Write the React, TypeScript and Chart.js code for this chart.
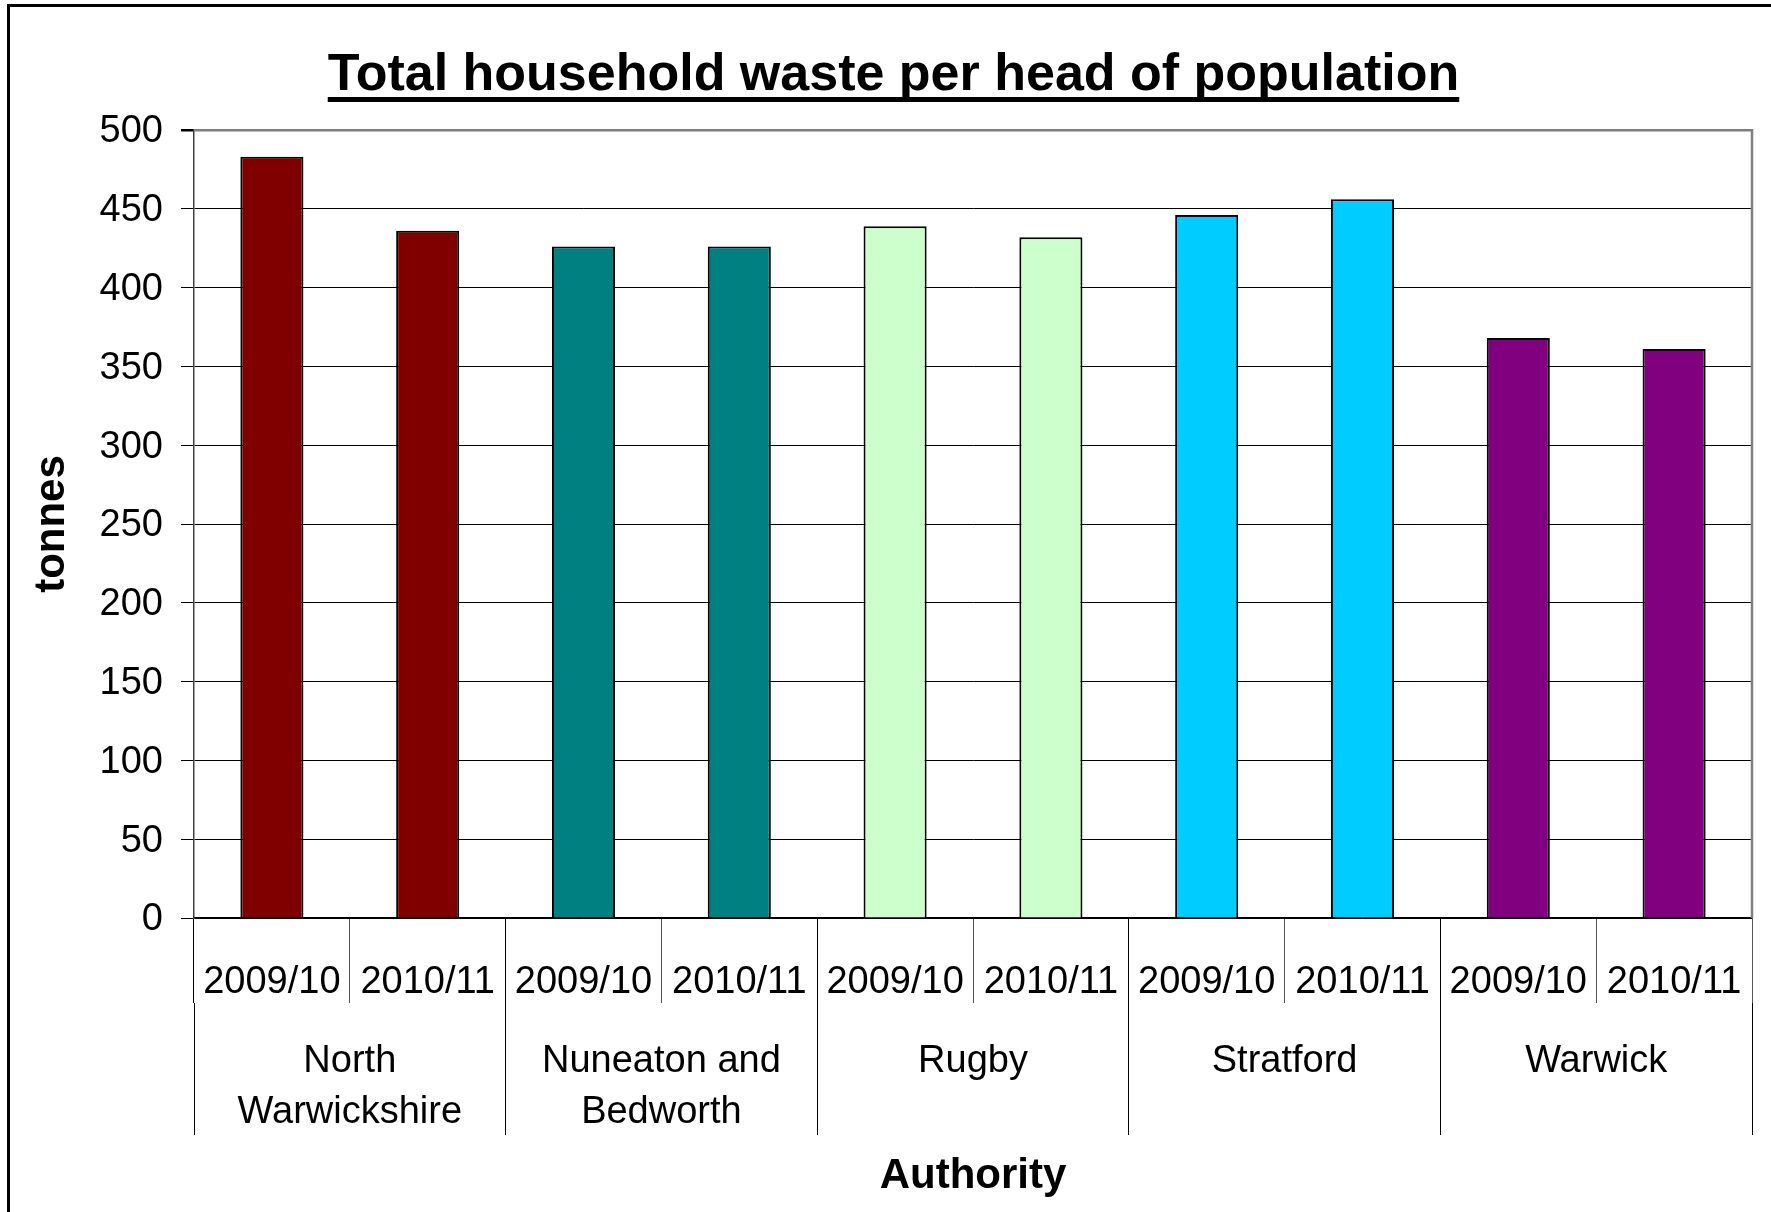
import React, { useEffect, useRef } from 'react';
import { Chart, registerables } from 'chart.js';

Chart.register(...registerables);

const FONT = "'Liberation Sans', Arial, Helvetica, sans-serif";

const chartTitle = 'Total household waste per head of population';
const xAxisTitle = 'Authority';
const yAxisTitle = 'tonnes';

const yearLabels = [
  '2009/10', '2010/11',
  '2009/10', '2010/11',
  '2009/10', '2010/11',
  '2009/10', '2010/11',
  '2009/10', '2010/11',
];

const authorityLabels = [
  ['North', 'Warwickshire'],
  ['Nuneaton and', 'Bedworth'],
  'Rugby',
  'Stratford',
  'Warwick',
];

const wasteValues = [483, 436, 426, 426, 439, 432, 446, 456, 368, 361];

const barColors = [
  '#800000', '#800000',
  '#008080', '#008080',
  '#CCFFCC', '#CCFFCC',
  '#00CCFF', '#00CCFF',
  '#800080', '#800080',
];

const yMin = 0;
const yMax = 500;
const yStep = 50;

const titlePlugin = {
  id: 'underlinedTitleAndBorder',
  afterDraw(chart: any) {
    const ctx = chart.ctx;
    const { right, top, bottom } = chart.chartArea;
    ctx.save();
    // plot area right border
    ctx.strokeStyle = '#808080';
    ctx.lineWidth = 2.5;
    ctx.beginPath();
    ctx.moveTo(right, top - 1);
    ctx.lineTo(right, bottom);
    ctx.stroke();
    // title
    ctx.font = `bold 52px ${FONT}`;
    ctx.fillStyle = '#000';
    ctx.textAlign = 'center';
    ctx.textBaseline = 'alphabetic';
    const cx = chart.width / 2 + 8;
    ctx.fillText(chartTitle, cx, 90);
    const w = ctx.measureText(chartTitle).width;
    ctx.fillRect(cx - w / 2, 97, w, 5);
    ctx.restore();
  },
};

export default function App() {
  const canvasRef = useRef<HTMLCanvasElement | null>(null);

  useEffect(() => {
    if (!canvasRef.current) return;
    const chart = new Chart(canvasRef.current, {
      type: 'bar',
      data: {
        labels: yearLabels,
        datasets: [
          {
            data: wasteValues,
            backgroundColor: barColors,
            borderColor: '#000',
            borderWidth: 2,
            barPercentage: 0.405,
            categoryPercentage: 1,
          },
        ],
      },
      options: {
        animation: false,
        responsive: false,
        events: [],
        layout: { padding: { left: 4, right: 19, top: 130, bottom: 0 } },
        plugins: {
          legend: { display: false },
          tooltip: { enabled: false },
          title: { display: false },
        },
        scales: {
          x: {
            type: 'category',
            position: 'bottom',
            weight: 0,
            offset: true,
            ticks: {
              color: '#000',
              font: { family: FONT, size: 38 },
              padding: -43.5,
              autoSkip: false,
              maxRotation: 0,
              minRotation: 0,
            },
            grid: {
              offset: true,
              drawOnChartArea: false,
              drawTicks: true,
              tickLength: 85,
              color: (c: any) => (c.index % 2 === 0 ? '#000' : '#555'),
              lineWidth: 1,
            },
            border: { display: true, color: '#000', width: 1.5 },
            afterFit: (s: any) => {
              s.height = 85;
              s.paddingLeft = 0;
              s.paddingRight = 0;
            },
          },
          x2: {
            type: 'category',
            position: 'bottom',
            weight: 1,
            labels: authorityLabels as any,
            offset: true,
            ticks: {
              color: '#000',
              font: { family: FONT, size: 38, lineHeight: 1.34 },
              padding: -99,
              autoSkip: false,
              maxRotation: 0,
              minRotation: 0,
            },
            grid: {
              offset: true,
              drawOnChartArea: false,
              drawTicks: true,
              tickLength: 132,
              color: '#000',
              lineWidth: 1,
            },
            border: { display: false },
            title: {
              display: true,
              text: xAxisTitle,
              color: '#000',
              font: { family: FONT, size: 42, weight: 'bold' },
              padding: { top: 0, bottom: 10 },
            },
            afterFit: (s: any) => {
              s.height = 209;
              s.paddingLeft = 0;
              s.paddingRight = 0;
            },
          },
          y: {
            min: yMin,
            max: yMax,
            ticks: {
              stepSize: yStep,
              color: '#000',
              font: { family: FONT, size: 38 },
              padding: 18,
              labelOffset: 2,
            },
            grid: {
              color: (c: any) => (c.tick && c.tick.value === yMax ? '#808080' : '#000'),
              lineWidth: (c: any) => (c.tick && c.tick.value === yMax ? 2.5 : 1),
              tickColor: '#000',
              tickLength: 13,
              drawTicks: true,
            },
            border: { display: true, color: '#404040', width: 1.5 },
            title: {
              display: true,
              text: yAxisTitle,
              color: '#000',
              font: { family: FONT, size: 42, weight: 'bold' },
              padding: { top: 23, bottom: 0 },
            },
            afterFit: (s: any) => {
              s.width = 190;
              s.paddingTop = 0;
              s.paddingBottom = 0;
            },
          },
        },
      } as any,
      plugins: [titlePlugin],
    });
    return () => chart.destroy();
  }, []);

  return (
    <div style={{ position: 'absolute', left: 0, top: 0, width: 1771, height: 1212, background: '#fff', overflow: 'hidden' }}>
      <div
        style={{
          position: 'absolute',
          left: 7,
          top: 4,
          width: 1800,
          height: 1300,
          borderLeft: '3px solid #000',
          borderTop: '3px solid #000',
        }}
      />
      <canvas
        ref={canvasRef}
        width={1771}
        height={1212}
        style={{ position: 'absolute', left: 0, top: 0, display: 'block' }}
      />
    </div>
  );
}
